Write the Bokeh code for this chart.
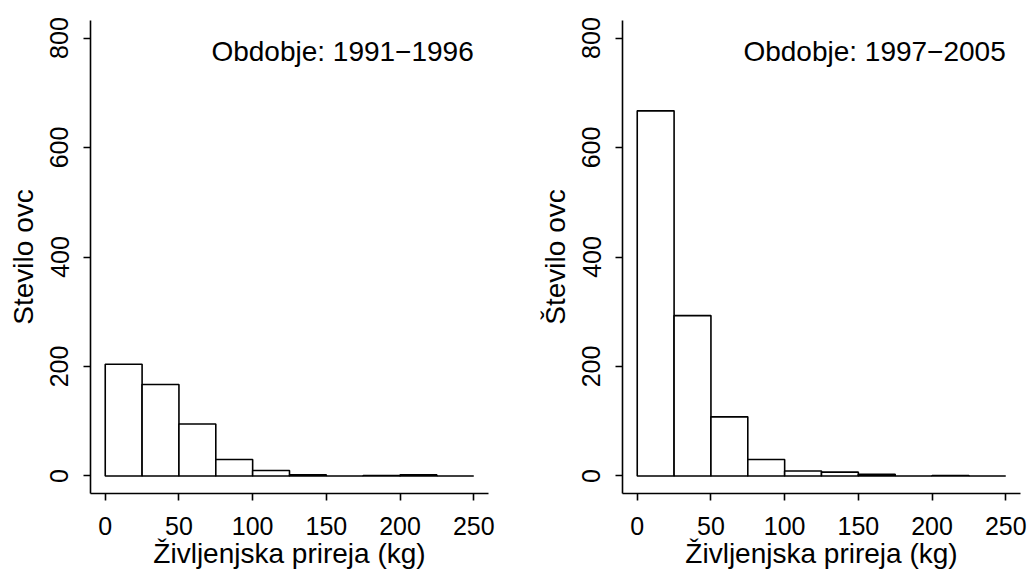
from bokeh.plotting import figure
from bokeh.layouts import row
from bokeh.models import ColumnDataSource, FixedTicker, Range1d, Label
from bokeh.embed import file_html
from bokeh.resources import INLINE

# --- data ---
bin_edges = [0, 25, 50, 75, 100, 125, 150, 175, 200, 225, 250]
counts_1991_1996 = [204, 167, 95, 30, 10, 2, 0, 1, 2, 0]
counts_1997_2005 = [667, 293, 108, 30, 9, 7, 3, 0, 1, 0]
x_ticks = [0, 50, 100, 150, 200, 250]
y_ticks = [0, 200, 400, 600, 800]
period_labels = ["Obdobje: 1991\u22121996", "Obdobje: 1997\u22122005"]
y_titles = ["Stevilo ovc", "\u0160tevilo ovc"]
x_title = "\u017divljenjska prireja (kg)"

FONT = "Liberation Sans"


def make_panel(counts, label_text, y_title, width, border_left, border_right):
    p = figure(width=width, height=576, output_backend="svg", toolbar_location=None,
               x_range=Range1d(-10, 260), y_range=Range1d(-32, 832),
               min_border_left=border_left, min_border_right=border_right,
               min_border_top=20, min_border_bottom=83)
    p.outline_line_color = None
    p.xgrid.visible = False
    p.ygrid.visible = False
    p.background_fill_color = "white"
    p.border_fill_color = "white"

    src = ColumnDataSource(dict(left=bin_edges[:-1], right=bin_edges[1:], top=counts,
                                bottom=[0] * len(counts)))
    p.quad(left="left", right="right", top="top", bottom="bottom", source=src,
           fill_color="white", line_color="black", line_width=1.6)

    for ax in (p.xaxis[0], p.yaxis[0]):
        ax.axis_line_color = "black"
        ax.axis_line_width = 1.6
        ax.major_tick_line_color = "black"
        ax.major_tick_line_width = 1.6
        ax.major_tick_out = 7
        ax.major_tick_in = 0
        ax.minor_tick_line_color = None
        ax.major_label_text_font = FONT
        ax.major_label_text_font_size = "25px"
        ax.major_label_text_color = "black"
        ax.axis_label_text_font = FONT
        ax.axis_label_text_font_size = "28px"
        ax.axis_label_text_font_style = "normal"
        ax.axis_label_text_color = "black"

    p.xaxis.ticker = FixedTicker(ticks=x_ticks)
    p.yaxis.ticker = FixedTicker(ticks=y_ticks)
    p.yaxis.major_label_orientation = "vertical"
    p.xaxis.major_label_standoff = 16
    p.yaxis.major_label_standoff = 15
    p.xaxis.axis_label = x_title
    p.yaxis.axis_label = y_title
    p.xaxis.axis_label_standoff = 0
    p.yaxis.axis_label_standoff = 9

    p.add_layout(Label(x=bin_edges[-1], y=775, text=label_text, text_align="right",
                       text_baseline="middle", text_font=FONT,
                       text_font_size="28px", text_color="black"))
    return p


p1 = make_panel(counts_1991_1996, period_labels[0], y_titles[0], 516, 90, 28)
p2 = make_panel(counts_1997_2005, period_labels[1], y_titles[1], 517, 106, 13)

layout = row(p1, p2)
open("out.html", "w").write(file_html(layout, INLINE))
